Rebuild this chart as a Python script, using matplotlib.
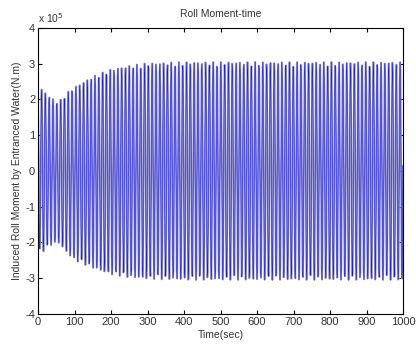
import matplotlib
matplotlib.use("Agg")
import matplotlib.pyplot as plt
import numpy as np

# envelope of the roll moment, read at a few times (sec, N.m)
env_t = [0, 10, 30, 55, 80, 100, 150, 200, 250, 300, 400, 1000]
env_upper = [2.3e5, 2.3e5, 2.1e5, 1.92e5, 2.2e5, 2.35e5, 2.65e5, 2.85e5, 2.95e5, 3.02e5, 3.05e5, 3.05e5]
env_lower = [-2.2e5, -2.3e5, -2.1e5, -2.0e5, -2.3e5, -2.5e5, -2.72e5, -2.9e5, -2.98e5, -3.02e5, -3.05e5, -3.05e5]
roll_period = 10.45  # sec
dt = 1.0

t = np.arange(0, 1000 + dt, dt)
up = np.interp(t, env_t, env_upper)
lo = np.interp(t, env_t, env_lower)
phase = np.cos(2 * np.pi * t / roll_period + 0.4)
moment = np.where(phase >= 0, up * phase, -lo * phase)

plt.rcParams["font.family"] = "Liberation Sans"
fig = plt.figure(figsize=(4.16, 3.48), dpi=100)
ax = fig.add_axes([38 / 416, 1 - 314 / 348, 365 / 416, 286 / 348])
ax.plot(t, moment, color="#8c8cd2", lw=1.3)
ax.plot(t, moment, color="blue", lw=0.3)
ax.set_xlim(0, 1000)
ax.set_ylim(-4e5, 4e5)
ax.set_xticks(np.arange(0, 1001, 100))
ax.set_yticks(np.arange(-4e5, 4.01e5, 1e5))
ax.set_yticklabels([str(v) for v in range(-4, 5)])
ax.tick_params(direction="in", top=True, right=True, labelsize=8, length=3, pad=2,
               labelcolor="#333333")
ax.text(0, 1.01, r"x 10$^5$", transform=ax.transAxes, fontsize=7.5, ha="left",
        va="bottom", color="#333333")
ax.set_title("Roll Moment-time", fontsize=7.5, pad=8, color="#333333")
ax.set_xlabel("Time(sec)", fontsize=7.5, labelpad=2, color="#333333")
ax.set_ylabel("Induced Roll Moment by Entranced Water(N.m)", fontsize=7.5,
              labelpad=2, color="#333333")
fig.savefig("out.png", dpi=100)
